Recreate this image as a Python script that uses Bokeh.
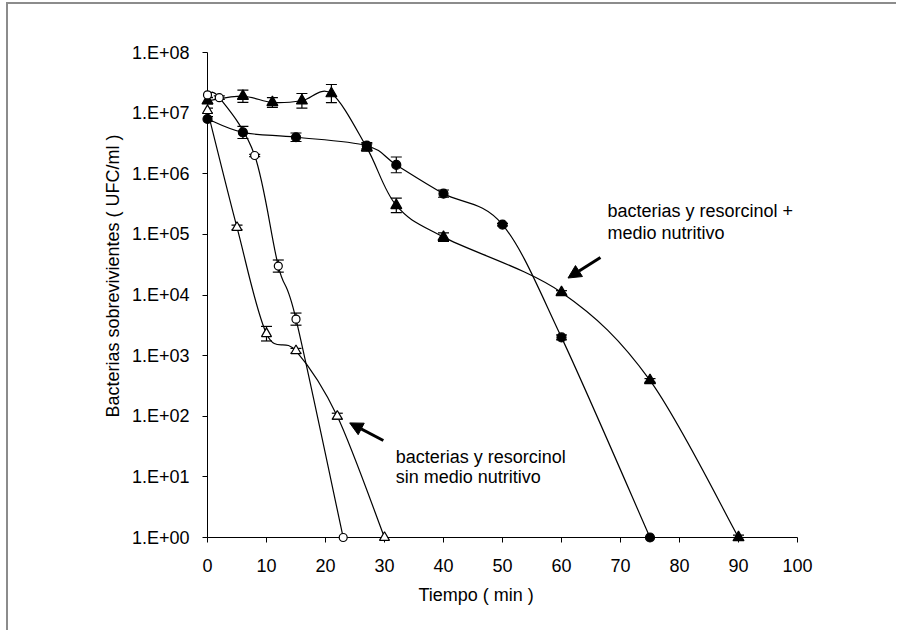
import numpy as np
from bokeh.plotting import figure
from bokeh.models import (Range1d, FixedTicker, CustomJSTickFormatter, Whisker, TeeHead,
                          ColumnDataSource, Arrow, NormalHead, Title)
from bokeh.core.properties import value
from bokeh.embed import file_html
from bokeh.resources import INLINE

# ---------------- data ----------------
# filled triangles: bacterias y resorcinol + medio nutritivo
t_tri_f = [0, 6, 11, 16, 21, 27, 32, 40, 60, 75, 90]
v_tri_f = [1.6e7, 1.9e7, 1.5e7, 1.6e7, 2.1e7, 2.7e6, 3.0e5, 9.0e4, 1.1e4, 3.9e2, 1.0]
e_tri_f = [0.05, 0.10, 0.08, 0.12, 0.15, 0.06, 0.12, 0.07, 0.03, 0.03, 0.04]

# filled circles
t_cir_f = [0, 6, 15, 27, 32, 40, 50, 60, 75]
v_cir_f = [8.0e6, 4.8e6, 4.0e6, 2.9e6, 1.4e6, 4.7e5, 1.45e5, 2.0e3, 1.0]
e_cir_f = [0.04, 0.10, 0.07, 0.05, 0.13, 0.06, 0.02, 0.04, 0.0]

# open circles
t_cir_o = [0, 2, 8, 12, 15, 23]
v_cir_o = [2.0e7, 1.8e7, 2.0e6, 3.0e4, 4.0e3, 1.0]
e_cir_o = [0.04, 0.03, 0.02, 0.10, 0.10, 0.0]

# open triangles: bacterias y resorcinol sin medio nutritivo
t_tri_o = [0, 5, 10, 15, 22, 30]
v_tri_o = [1.1e7, 1.3e5, 2.3e3, 1.2e3, 1.0e2, 1.0]
e_tri_o = [0.04, 0.04, 0.12, 0.04, 0.05, 0.0]

x_ticks = [0, 10, 20, 30, 40, 50, 60, 70, 80, 90, 100]
y_ticks = [1, 10, 100, 1e3, 1e4, 1e5, 1e6, 1e7, 1e8]
y_tick_labels = ["1.E+00", "1.E+01", "1.E+02", "1.E+03", "1.E+04",
                 "1.E+05", "1.E+06", "1.E+07", "1.E+08"]

x_title = "Tiempo ( min )"
y_title = "Bacterias sobrevivientes ( UFC/ml )"

note1_lines = ["bacterias y resorcinol +", " medio nutritivo"]
note1_x = 67.8
note1_y = [10 ** 5.38, 10 ** 5.02]
note2_lines = ["bacterias y resorcinol", "sin medio nutritivo"]
note2_x = 31.9
note2_y = [10 ** 1.32, 10 ** 1.0]

arrow1 = dict(x_start=66.6, y_start=10 ** 4.62, x_end=61.1, y_end=10 ** 4.28)
arrow2 = dict(x_start=29.8, y_start=10 ** 1.60, x_end=24.1, y_end=10 ** 1.89)

FONT = "Liberation Sans"
FS = "18px"
W, H = 890, 628

p = figure(width=W, height=H, x_range=Range1d(0, 100), y_range=Range1d(1, 1e8),
           y_axis_type="log", output_backend="svg", toolbar_location=None,
           min_border_left=199, min_border_right=101, min_border_top=48,
           min_border_bottom=95)
p.grid.visible = False
p.outline_line_color = None
p.background_fill_color = "white"
p.border_fill_color = "white"
p.styles = {"margin-left": "6px", "margin-top": "2px",
            "border-left": "2px solid #8c8c8c", "border-top": "2px solid #8c8c8c"}

for ax in (p.xaxis[0], p.yaxis[0]):
    ax.axis_line_color = "black"
    ax.axis_line_width = 1
    ax.major_tick_line_color = "black"
    ax.major_tick_out = 5
    ax.major_tick_in = 0
    ax.minor_tick_line_color = None
    ax.major_label_text_font = FONT
    ax.major_label_text_font_size = FS
    ax.major_label_text_color = "black"

p.xaxis.ticker = FixedTicker(ticks=x_ticks)
p.xaxis.major_label_standoff = 16
p.yaxis.ticker = FixedTicker(ticks=y_ticks)
p.yaxis.major_label_standoff = 13
p.yaxis.formatter = CustomJSTickFormatter(
    args=dict(yt=y_ticks, lbl=y_tick_labels),
    code="""
    for (let i = 0; i < yt.length; i++) {
        if (Math.abs(Math.log10(yt[i]) - Math.log10(tick)) < 1e-6) return lbl[i];
    }
    return '';
    """)


def smooth(t, v):
    """Excel-like smoothed connector drawn as Bezier segments in (x, log y) space."""
    P = np.column_stack([np.asarray(t, float), np.log10(np.asarray(v, float))])
    n = len(P)
    out = {k: [] for k in ("x0", "y0", "x1", "y1", "cx0", "cy0", "cx1", "cy1")}
    for i in range(n - 1):
        pm = P[i - 1] if i > 0 else P[i]
        pp = P[i + 2] if i + 2 < n else P[i + 1]
        c0 = P[i] + (P[i + 1] - pm) / 6.0
        c1 = P[i + 1] - (pp - P[i]) / 6.0
        out["x0"].append(P[i][0]); out["y0"].append(10 ** P[i][1])
        out["x1"].append(P[i + 1][0]); out["y1"].append(10 ** P[i + 1][1])
        out["cx0"].append(c0[0]); out["cy0"].append(10 ** c0[1])
        out["cx1"].append(c1[0]); out["cy1"].append(10 ** c1[1])
    return out


series = [
    (t_tri_f, v_tri_f, e_tri_f, "triangle", 11, "black"),
    (t_cir_f, v_cir_f, e_cir_f, "circle", 9, "black"),
    (t_cir_o, v_cir_o, e_cir_o, "circle", 8, "white"),
    (t_tri_o, v_tri_o, e_tri_o, "triangle", 10, "white"),
]

for t, v, e, m, s, fill in series:
    p.bezier(source=ColumnDataSource(smooth(t, v)), x0="x0", y0="y0", x1="x1", y1="y1",
             cx0="cx0", cy0="cy0", cx1="cx1", cy1="cy1", line_color="black", line_width=1.2)

for t, v, e, m, s, fill in series:
    va = np.asarray(v, float)
    ea = 10 ** np.asarray(e, float)
    src = ColumnDataSource(dict(x=t, upper=va * ea, lower=va / ea))
    w = Whisker(base="x", upper="upper", lower="lower", source=src, dimension="height",
                line_color="black", line_width=1.2,
                upper_head=TeeHead(size=11, line_color="black", line_width=1.2),
                lower_head=TeeHead(size=11, line_color="black", line_width=1.2))
    p.add_layout(w)

for t, v, e, m, s, fill in series:
    p.scatter(x=t, y=v, marker=m, size=s, fill_color=fill, line_color="black",
              line_width=1.2, level="overlay")

p.text(x=[note1_x] * 2, y=note1_y, text=note1_lines, text_font=value(FONT),
       text_font_size=FS, text_color="black", text_baseline="middle", text_align="left",
       level="overlay")
p.text(x=[note2_x] * 2, y=note2_y, text=note2_lines, text_font=value(FONT),
       text_font_size=FS, text_color="black", text_baseline="middle", text_align="left",
       level="overlay")

for a in (arrow1, arrow2):
    p.add_layout(Arrow(end=NormalHead(size=13, fill_color="black", line_color="black"),
                       line_color="black", line_width=3, **a))

# axis titles (offset to match the original's placement)
p.add_layout(Title(text=x_title, align="left", offset=211, standoff=17,
                   text_font=FONT, text_font_size=FS, text_font_style="normal",
                   text_color="black"), "below")
p.add_layout(Title(text=y_title, align="left", offset=120, standoff=12,
                   text_font=FONT, text_font_size=FS, text_font_style="normal",
                   text_color="black"), "left")

open("out.html", "w").write(file_html(p, INLINE))
